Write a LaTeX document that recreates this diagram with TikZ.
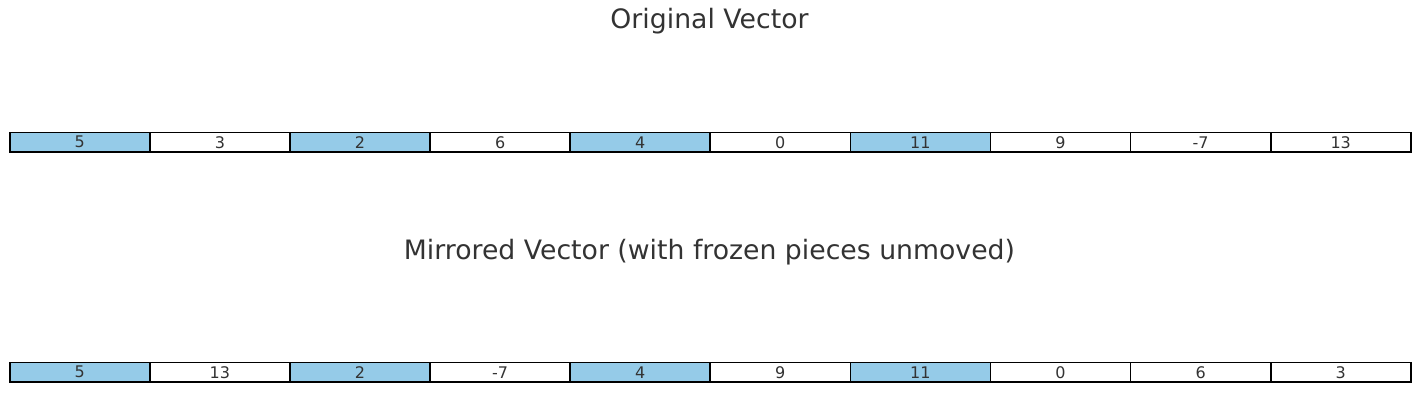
\documentclass[tikz,border=0pt]{standalone}
\usepackage{fontspec}
\setmainfont{DejaVu Sans}
\definecolor{frozen}{RGB}{149,203,232}
\definecolor{txt}{RGB}{51,51,51}
\tikzset{
  cellbox/.style={draw=black, line width=1.6pt, minimum width=140pt, minimum height=19.5pt, inner sep=0pt, anchor=west, text=txt, font=\fontsize{16}{18}\selectfont},
  fz/.style={fill=frozen},
  titletext/.style={text=txt, font=\fontsize{26.7}{30}\selectfont, inner sep=0pt}
}
\begin{document}
\begin{tikzpicture}[x=1pt,y=-1pt]
\useasboundingbox (0,0) rectangle (1412,410);
\node[titletext] (t1) at (709.5,21.5) {Original Vector};
\node[titletext] (t2) at (709.5,252.5) {Mirrored Vector (with frozen pieces unmoved)};
\foreach \v [count=\i from 0] in {5,3,2,6,4,0,11,9,-7,13} {
  \ifnum\i<7 \pgfmathtruncatemacro{\m}{mod(\i,2)}\else \def\m{1}\fi
  \ifnum\m=0
    \node[cellbox,fz] (a\i) at ({9.0+140.1*\i},142.2) {\v};
  \else
    \node[cellbox] (a\i) at ({9.0+140.1*\i},142.2) {\v};
  \fi
}
\foreach \v [count=\i from 0] in {5,13,2,-7,4,9,11,0,6,3} {
  \ifnum\i<7 \pgfmathtruncatemacro{\m}{mod(\i,2)}\else \def\m{1}\fi
  \ifnum\m=0
    \node[cellbox,fz] (b\i) at ({9.0+140.1*\i},372.2) {\v};
  \else
    \node[cellbox] (b\i) at ({9.0+140.1*\i},372.2) {\v};
  \fi
}
\end{tikzpicture}
\end{document}
